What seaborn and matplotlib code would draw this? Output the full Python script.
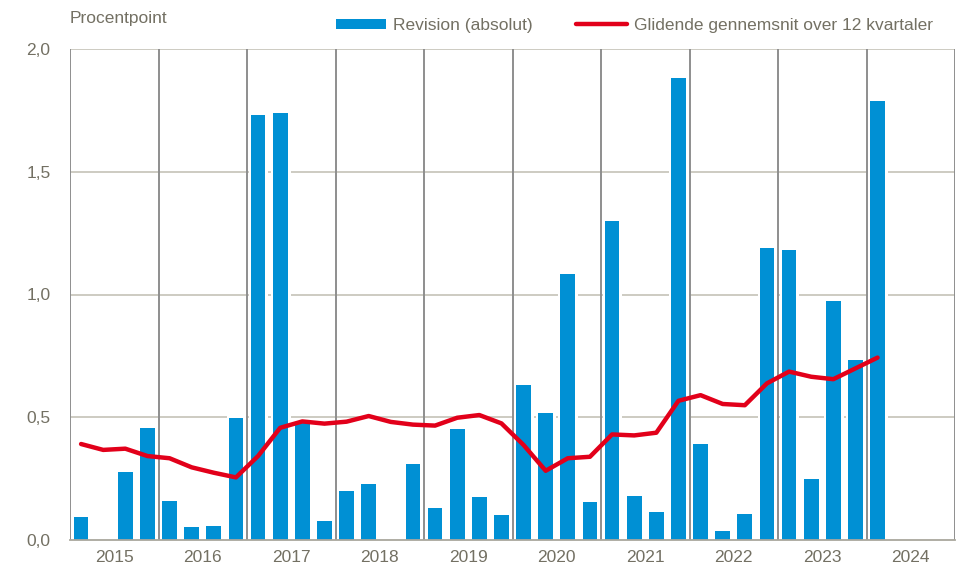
import matplotlib
matplotlib.use("Agg")
import matplotlib.pyplot as plt
from matplotlib import font_manager as fm
from matplotlib.patches import Patch
from matplotlib.lines import Line2D
from matplotlib.ticker import FuncFormatter
import numpy as np
import pandas as pd
import seaborn as sns

# Quarterly revisions (absolute, percentage points) and their 12-quarter moving average
years = [2015, 2016, 2017, 2018, 2019, 2020, 2021, 2022, 2023, 2024]
quarters = [f"{y}K{q}" for y in years for q in range(1, 5)]

revision = [
    0.095, 0.0, 0.278, 0.455,
    0.158, 0.054, 0.057, 0.497,
    1.73, 1.739, 0.475, 0.076,
    0.20, 0.227, 0.0, 0.308,
    0.130, 0.451, 0.174, 0.100,
    0.631, 0.516, 1.082, 0.156,
    1.299, 0.179, 0.114, 1.88,
    0.391, 0.035, 0.105, 1.188,
    1.183, 0.248, 0.973, 0.734,
    1.79, np.nan, np.nan, np.nan,
]

moving_avg = [
    0.391, 0.367, 0.372, 0.342,
    0.333, 0.296, 0.274, 0.255,
    0.342, 0.457, 0.483, 0.474,
    0.482, 0.505, 0.481, 0.470,
    0.466, 0.498, 0.509, 0.475,
    0.387, 0.282, 0.333, 0.339,
    0.430, 0.426, 0.437, 0.567,
    0.590, 0.554, 0.549, 0.638,
    0.686, 0.665, 0.655, 0.699,
    0.743, np.nan, np.nan, np.nan,
]

y_ticks = [0.0, 0.5, 1.0, 1.5, 2.0]

BLUE = "#0090d4"
RED = "#e2001a"
TEXT = "#737063"
GRID = "#c9c7bd"
SEP = "#8e8e8e"
FS = 12.5

sns.set_theme(style="white")
installed = {f.name for f in fm.fontManager.ttflist}
base_font = "Liberation Sans Narrow" if "Liberation Sans Narrow" in installed else "Liberation Sans"
plt.rcParams["font.family"] = [base_font, "DejaVu Sans"]

df = pd.DataFrame({"kvartal": quarters, "revision": revision,
                   "pos": np.arange(len(quarters)), "snit": moving_avg})

fig = plt.figure(figsize=(9.6, 5.71), dpi=100)
ax = fig.add_axes([70 / 960, 1 - 540 / 571, 885 / 960, 491 / 571])

# horizontal gridlines behind bars
for yv in y_ticks[1:]:
    ax.axhline(yv, color=GRID, lw=1.3, zorder=0)

# white halo under each bar, then the blue bars themselves
sns.barplot(data=df, x="kvartal", y="revision", order=quarters, color="white",
            saturation=1, width=0.67, edgecolor="white", linewidth=3.6,
            ax=ax, zorder=1)
sns.barplot(data=df, x="kvartal", y="revision", order=quarters, color=BLUE,
            saturation=1, width=0.67, linewidth=0, ax=ax, zorder=2)

# year separators
for k in range(len(years) + 1):
    ax.axvline(4 * k - 0.5, color=SEP, lw=1.4, zorder=3)

sns.lineplot(data=df, x="pos", y="snit", color=RED, lw=3.2, ax=ax, zorder=4)

ax.set_xlim(-0.5, len(quarters) - 0.5)
ax.set_ylim(0, 2.0)
ax.set_yticks(y_ticks)
ax.yaxis.set_major_formatter(FuncFormatter(lambda v, _: f"{v:.1f}".replace(".", ",")))
ax.set_xticks([4 * k + 1.5 for k in range(len(years))])
ax.set_xticklabels([str(y) for y in years])
ax.tick_params(axis="both", length=0, colors=TEXT, labelsize=FS)
ax.tick_params(axis="y", pad=14)
ax.tick_params(axis="x", pad=7)
ax.set_xlabel("")
ax.set_ylabel("")

for side in ["top", "right", "left"]:
    ax.spines[side].set_visible(False)
ax.spines["bottom"].set_color("#a9a79d")
ax.spines["bottom"].set_linewidth(1.3)
ax.spines["bottom"].set_zorder(3)

fig.text(70 / 960, 1 - 18 / 571, "Procentpoint", color=TEXT, fontsize=FS,
         ha="left", va="center")

handles = [Patch(facecolor=BLUE, edgecolor="none"),
           Line2D([0], [0], color=RED, lw=3.2)]
fig.legend(handles, ["Revision (absolut)", "Glidende gennemsnit over 12 kvartaler"],
           loc="center left", bbox_to_anchor=(336 / 960, 1 - 25.5 / 571), ncol=2,
           frameon=False, fontsize=FS, labelcolor=TEXT, handlelength=2.9,
           handleheight=0.55, handletextpad=0.4, columnspacing=2.5,
           borderaxespad=0, borderpad=0)

fig.savefig("out.png", dpi=100)
